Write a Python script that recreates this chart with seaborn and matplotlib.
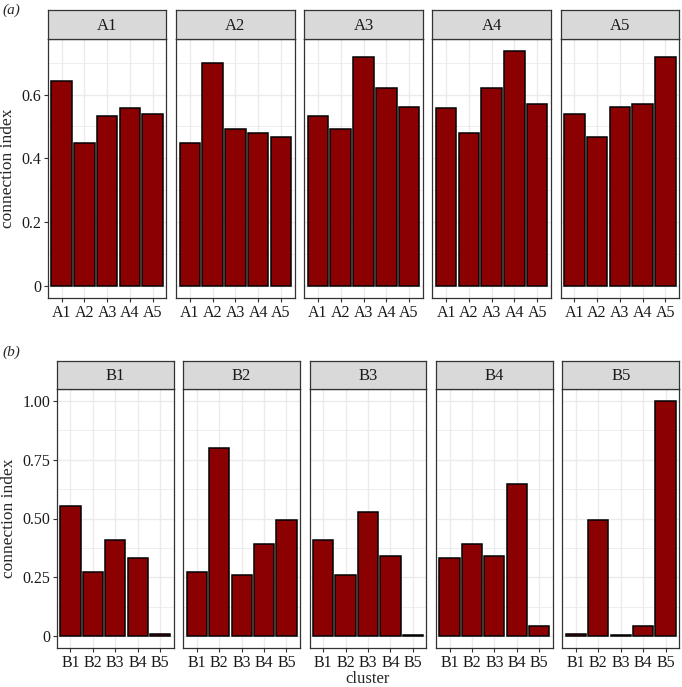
import matplotlib
matplotlib.use("Agg")
import matplotlib.pyplot as plt
import numpy as np
import seaborn as sns
from matplotlib.ticker import FixedLocator, FixedFormatter

# ---------------- datos ----------------
clusters_a = ['A1', 'A2', 'A3', 'A4', 'A5']
a1_vals = [0.642, 0.448, 0.533, 0.557, 0.540]
a2_vals = [0.448, 0.700, 0.492, 0.480, 0.467]
a3_vals = [0.533, 0.492, 0.717, 0.619, 0.560]
a4_vals = [0.557, 0.480, 0.619, 0.737, 0.569]
a5_vals = [0.540, 0.467, 0.560, 0.569, 0.716]

clusters_b = ['B1', 'B2', 'B3', 'B4', 'B5']
b1_vals = [0.552, 0.274, 0.409, 0.331, 0.011]
b2_vals = [0.274, 0.800, 0.260, 0.393, 0.492]
b3_vals = [0.409, 0.260, 0.526, 0.342, 0.005]
b4_vals = [0.331, 0.393, 0.342, 0.648, 0.042]
b5_vals = [0.011, 0.492, 0.005, 0.042, 0.997]

a_ticks = [0, 0.2, 0.4, 0.6]
a_tick_labels = ['0', '0.2', '0.4', '0.6']
a_minor = [0.1, 0.3, 0.5, 0.7]
b_ticks = [0, 0.25, 0.5, 0.75, 1.0]
b_tick_labels = ['0', '0.25', '0.50', '0.75', '1.00']
b_minor = [0.125, 0.375, 0.625, 0.875]

sns.set_style("white")
plt.rcParams['font.family'] = ['Liberation Serif', 'DejaVu Serif']

W, H = 682, 687
fig = plt.figure(figsize=(W / 100, H / 100), dpi=100)

def px_axes(x0, y0, x1, y1):
    # coordenadas en pixeles (origen arriba a la izquierda)
    return fig.add_axes([x0 / W, 1 - y1 / H, (x1 - x0) / W, (y1 - y0) / H])

def fila(cats, series, left, right, strip_top, strip_bot, panel_bot, ticks, tlabels, minor, ymax):
    gap = 9.8
    width = (right - left - 4 * gap) / 5
    rng = ymax * 0.05
    for i, (cat, vals) in enumerate(zip(cats, series)):
        x0 = left + i * (width + gap)
        x1 = x0 + width
        ax = px_axes(x0, strip_bot, x1, panel_bot)
        sns.barplot(x=cats, y=vals, color='#8B0000', saturation=1, edgecolor='black',
                    linewidth=1.1, width=0.9, ax=ax, zorder=3)
        ax.set_xlim(-0.6, 4.6)
        ax.set_ylim(-rng, ymax + rng)
        ax.yaxis.set_major_locator(FixedLocator(ticks))
        ax.yaxis.set_minor_locator(FixedLocator(minor))
        ax.grid(True, which='major', color='#EBEBEB', linewidth=1.0, zorder=0)
        ax.grid(True, which='minor', axis='y', color='#EBEBEB', linewidth=0.6, zorder=0)
        ax.set_axisbelow(True)
        for s in ax.spines.values():
            s.set_color('#333333')
            s.set_linewidth(0.9)
        ax.tick_params(axis='x', which='major', length=3, width=0.8, color='#333333',
                       labelsize=11.5, labelcolor='#1A1A1A', pad=2, bottom=True)
        ax.tick_params(axis='y', which='minor', length=0)
        if i == 0:
            ax.yaxis.set_major_formatter(FixedFormatter(tlabels))
            ax.tick_params(axis='y', which='major', length=3, width=0.8, color='#333333',
                           labelsize=11.5, labelcolor='#1A1A1A', pad=2, left=True)
            ax.set_ylabel('connection index', fontsize=12.5, labelpad=4)
        else:
            ax.tick_params(axis='y', which='major', length=0, labelleft=False)
            ax.set_ylabel('')
        ax.set_xlabel('')
        # tira del facet
        st = px_axes(x0, strip_top, x1, strip_bot)
        st.set_facecolor('#D9D9D9')
        st.set_xticks([])
        st.set_yticks([])
        for s in st.spines.values():
            s.set_color('#333333')
            s.set_linewidth(0.9)
        st.text(0.5, 0.45, cat, ha='center', va='center', fontsize=12, color='#1A1A1A',
                transform=st.transAxes)
    return ax

fila(clusters_a, [a1_vals, a2_vals, a3_vals, a4_vals, a5_vals], 48, 679, 10, 39, 298,
     a_ticks, a_tick_labels, a_minor, 0.737)
fila(clusters_b, [b1_vals, b2_vals, b3_vals, b4_vals, b5_vals], 57, 679, 361, 389, 648,
     b_ticks, b_tick_labels, b_minor, 1.0)

fig.text(2 / W, 1 - 10 / H, '(a)', fontsize=11, style='italic', ha='left', va='center')
fig.text(2 / W, 1 - 352 / H, '(b)', fontsize=11, style='italic', ha='left', va='center')
fig.text(368 / W, 1 - 679 / H, 'cluster', fontsize=12, ha='center', va='center')

fig.savefig('out.png', dpi=100)
